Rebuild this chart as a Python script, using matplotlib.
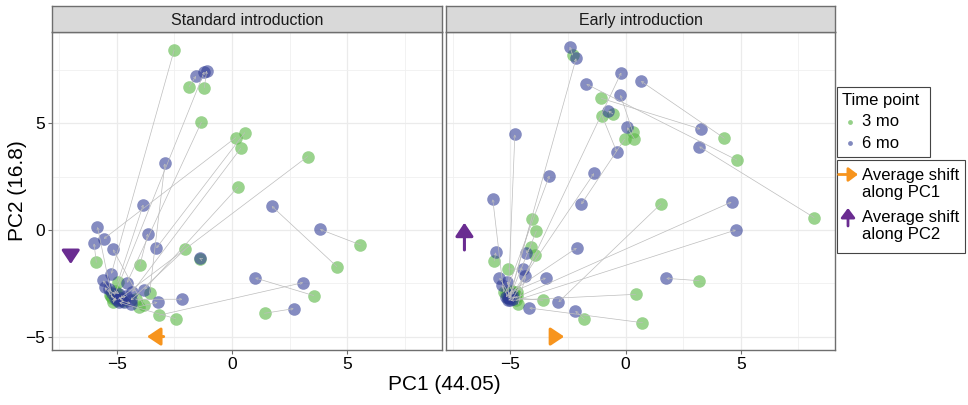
import matplotlib
matplotlib.use("Agg")
import matplotlib.pyplot as plt
from matplotlib.patches import Rectangle

plt.rcParams['font.family'] = ['Liberation Sans', 'DejaVu Sans']

# PCA scores, standard introduction (3 mo -> 6 mo, one pair per infant)
std_x3 = [-2.51, -1.86, -1.20, -5.10, -1.33, 0.16, 0.55, 0.38, 3.28, 0.25,
          5.57, 4.55, 3.55, -3.17, -2.45, 1.41, -2.03, -1.39, -5.89, -4.00,
          -3.58, -4.96, -4.17, -4.03, -3.84, -5.20, -5.15, -5.05, -4.90, -5.25,
          -4.75, -5.10, -5.30, -4.95, -5.15, -4.85, -5.00]
std_y3 = [8.44, 6.72, 6.67, -3.05, 5.05, 4.33, 4.56, 3.83, 3.44, 2.00,
          -0.70, -1.72, -3.08, -4.00, -4.16, -3.91, -0.91, -1.34, -1.52, -1.66,
          -2.98, -2.45, -3.25, -3.60, -3.53, -3.20, -3.00, -3.30, -3.15, -3.10,
          -3.35, -2.85, -3.05, -3.25, -3.40, -3.20, -2.95]
std_x6 = [-5.24, -1.56, -1.10, -1.20, -4.56, -5.57, -3.29, -4.33, -4.85, -3.81,
          3.81, 1.72, 1.00, 3.09, -4.90, 2.68, -4.40, -1.41, -5.99, -3.65,
          -2.91, -3.85, -2.15, -3.23, -5.17, -5.84, -5.60, -5.53, -4.70, -5.00,
          -4.40, -4.90, -5.35, -4.60, -5.10, -4.80, -5.20]
std_y6 = [-2.06, 7.22, 7.47, 7.42, -2.48, -0.42, -0.86, -2.91, -3.20, -2.80,
          0.03, 1.12, -2.25, -2.47, -3.40, -3.69, -3.30, -1.33, -0.63, -0.17,
          3.12, 1.19, -3.25, -3.39, -0.91, 0.14, -2.37, -2.69, -3.40, -3.30,
          -3.45, -3.00, -2.75, -3.10, -3.20, -3.30, -2.95]

# PCA scores, early introduction
early_x3 = [-2.30, -5.00, 4.82, 4.28, -1.06, 8.18, -1.02, -0.56, 0.38, 0.31,
            -0.05, -4.70, -5.10, -5.20, -4.95, -5.30, -4.80, -4.75, 1.53, 3.19,
            0.43, 0.73, -1.80, -3.61, -4.08, -3.88, -4.13, -3.95, -5.70, -5.09,
            -4.66, -5.10, -4.90, -5.00, -5.15, -4.85, -4.70, -5.05, -4.95]
early_y3 = [8.20, -3.00, 3.28, 4.30, 6.17, 0.58, 5.34, 5.44, 4.28, 4.59,
            4.25, -2.90, -3.20, -2.95, -3.05, -2.90, -3.20, -3.30, 1.22, -2.38,
            -3.02, -4.35, -4.17, -3.30, 0.52, -0.06, -0.81, -1.19, -1.45, -1.83,
            -3.47, -3.00, -2.90, -3.10, -3.05, -3.00, -3.10, -3.15, -2.85]
early_x6 = [-2.43, -2.15, -1.71, 0.66, 3.25, 3.19, -0.38, -0.76, 0.06, -0.23,
            -1.93, -0.19, -4.81, -3.31, -1.37, -5.77, 4.60, 4.79, -2.92, 1.76,
            -5.00, -4.19, -2.19, -5.10, -5.00, -5.05, -4.33, -4.90, -5.64, -4.45,
            -4.35, -2.12, -3.46, -5.48, -5.38, -5.16, -5.10, -4.95, -5.20]
early_y6 = [8.59, 8.05, 6.84, 6.98, 4.73, 3.91, 3.64, 5.59, 4.81, 6.33,
            1.20, 7.38, 4.48, 2.55, 2.66, 1.44, 1.31, 0.00, -3.39, -2.27,
            -3.30, -3.66, -3.80, -3.15, -3.05, -3.20, -1.09, -3.25, -1.05, -1.84,
            -2.16, -0.84, -2.25, -2.25, -2.59, -2.42, -3.30, -3.00, -3.15]

# average shift arrows: (x start, y start, x end, y end)
std_pc1 = (-2.97, -5.0, -3.69, -5.0)
std_pc2 = (-7.0, -1.10, -7.0, -1.60)
early_pc1 = (-3.17, -5.0, -2.67, -5.0)
early_pc2 = (-7.0, -0.94, -7.0, 0.34)

panel_titles = ["Standard introduction", "Early introduction"]
ticks = [-5, 0, 5]

green = '#5cb848'
blue = '#2e3a94'
orange = '#f7941d'
purple = '#6a2c91'
frame = '#6e6e6e'

fig = plt.figure(figsize=(9.68, 4.05), dpi=100)
W, H = 968, 405


def fr(x0, y0, x1, y1):
    return [x0 / W, 1 - y1 / H, (x1 - x0) / W, (y1 - y0) / H]


panels = [
    (fr(52.3, 32, 441.7, 350), std_x3, std_y3, std_x6, std_y6, std_pc1, std_pc2),
    (fr(446, 32, 835.3, 350), early_x3, early_y3, early_x6, early_y6, early_pc1, early_pc2),
]
strip_px = [(52.3, 441.7), (446, 835.3)]

for i, (pos, x3, y3, x6, y6, pc1, pc2) in enumerate(panels):
    ax = fig.add_axes(pos)
    ax.set_xlim(-7.8, 9.1)
    ax.set_ylim(-5.63, 9.28)
    ax.set_xticks(ticks)
    ax.set_yticks(ticks)
    ax.set_xticks([-7.5, -2.5, 2.5, 7.5], minor=True)
    ax.set_yticks([-2.5, 2.5, 7.5], minor=True)
    ax.grid(which='major', color='#ebebeb', lw=0.9)
    ax.grid(which='minor', color='#f0f0f0', lw=0.6)
    ax.set_axisbelow(True)
    for s in ax.spines.values():
        s.set_color(frame)
        s.set_linewidth(1.0)
    ax.tick_params(which='major', length=3, color=frame, labelsize=12.5, pad=2)
    ax.tick_params(which='minor', length=0)
    if i > 0:
        ax.tick_params(labelleft=False, left=False)

    ax.scatter(x3, y3, s=82, color=green, alpha=0.62, lw=0, zorder=2)
    ax.scatter(x6, y6, s=82, color=blue, alpha=0.58, lw=0, zorder=3)
    for a, b, c, d in zip(x3, y3, x6, y6):
        ax.annotate("", xy=(c, d), xytext=(a, b),
                    arrowprops=dict(arrowstyle='->', color='#bdbdbd', lw=0.5,
                                    shrinkA=0, shrinkB=0, mutation_scale=4),
                    zorder=4)

    for arr, col in [(pc1, orange), (pc2, purple)]:
        ax.annotate("", xy=(arr[2], arr[3]), xytext=(arr[0], arr[1]),
                    arrowprops=dict(arrowstyle='-|>,head_length=0.45,head_width=0.3',
                                    color=col, lw=2.2, shrinkA=0, shrinkB=0,
                                    mutation_scale=18),
                    zorder=5)

    # facet strip
    sx0, sx1 = strip_px[i]
    sax = fig.add_axes(fr(sx0, 5.7, sx1, 32))
    sax.set_facecolor('#d9d9d9')
    sax.set_xticks([])
    sax.set_yticks([])
    for s in sax.spines.values():
        s.set_color(frame)
        s.set_linewidth(1.0)
    sax.text(0.5, 0.45, panel_titles[i], ha='center', va='center', fontsize=11.5,
             color='#1a1a1a', transform=sax.transAxes)

fig.text(18 / W, 1 - 191 / H, "PC2 (16.8)", rotation=90, ha='center', va='center',
         fontsize=15)
fig.text(444 / W, 1 - 384 / H, "PC1 (44.05)", ha='center', va='center', fontsize=15)

# legend drawn in pixel coordinates
lax = fig.add_axes([0, 0, 1, 1], zorder=10)
lax.set_xlim(0, W)
lax.set_ylim(H, 0)
lax.axis('off')
lax.add_patch(Rectangle((836.7, 86.7), 93.3, 70.6, fc='white', ec='#444444', lw=0.8))
lax.text(841.5, 100, "Time point", fontsize=12, va='center')
lax.scatter([849.5], [121.5], s=12, color=green, alpha=0.65, lw=0)
lax.scatter([849.5], [143.3], s=12, color=blue, alpha=0.6, lw=0)
lax.text(862, 121.5, "3 mo", fontsize=12, va='center')
lax.text(862, 143.3, "6 mo", fontsize=12, va='center')

lax.add_patch(Rectangle((836.7, 160), 128.3, 93, fc='white', ec='#444444', lw=0.8))
lax.annotate("", xy=(858, 174.5), xytext=(838.5, 174.5),
             arrowprops=dict(arrowstyle='-|>,head_length=0.4,head_width=0.3', color=orange,
                             lw=2, shrinkA=0, shrinkB=0, mutation_scale=14))
lax.annotate("", xy=(848, 208), xytext=(848, 226),
             arrowprops=dict(arrowstyle='-|>,head_length=0.4,head_width=0.3', color=purple,
                             lw=2, shrinkA=0, shrinkB=0, mutation_scale=14))
lax.text(862, 184, "Average shift\nalong PC1", fontsize=12, va='center', linespacing=1.15)
lax.text(862, 226, "Average shift\nalong PC2", fontsize=12, va='center', linespacing=1.15)

fig.savefig("out.png", dpi=100)
